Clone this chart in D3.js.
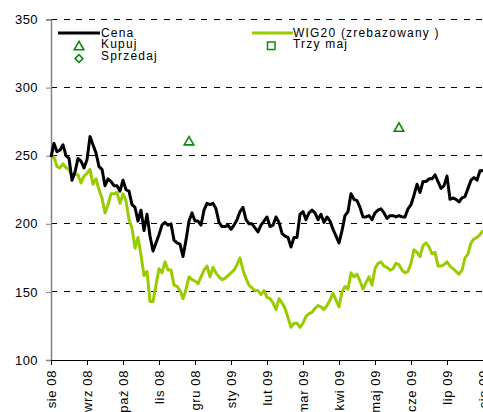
<!DOCTYPE html>
<html><head><meta charset="utf-8">
<script src="https://cdn.jsdelivr.net/npm/d3@7"></script>
<style>
html,body{margin:0;padding:0;background:#fff;}
svg{display:block;font-family:"Liberation Sans",Arial,sans-serif;}
</style></head>
<body>
<script>
const monthLabels = ["sie 08","wrz 08","paź 08","lis 08","gru 08","sty 09","lut 09","mar 09","kwi 09","maj 09","cze 09","lip 09","sie 09"];
const yTicks = [100,150,200,250,300,350];
const cena = [249,259,253,254,258,250,248,232,238,248,246,241,247,264,258,252,242,240,228,233,
231,228,228,224,232,225,224,214,212,202,210,195,207,191,180,186,192,199,201,199,
200,188,186,185,176,188,202,208,202,202,199,210,215,214,215,211,201,198,198,199,
196,199,203,209,212,203,200,200,197,194,199,202,205,198,199,205,201,193,191,190,
183,190,190,207,209,203,208,210,208,203,207,201,205,202,196,191,186,195,206,209,
222,218,217,212,205,205,206,203,208,210,211,208,204,206,206,205,206,205,205,211,
214,221,229,223,231,231,233,233,236,231,226,228,235,218,219,218,216,219,220,226,
232,234,232,239,239];
const wig20 = [249,249,242,241,244,241,240,235,236,236,230,235,237,240,229,233,225,219,208,214,
222,222,223,215,222,217,203,197,182,190,177,162,165,143,143,155,167,164,172,166,
166,155,154,151,145,152,161,159,158,156,161,166,169,161,168,164,161,159,160,162,
164,166,170,175,166,160,155,153,151,151,148,151,146,145,142,137,145,142,138,131,
124,127,127,124,127,132,134,135,138,140,139,137,140,144,149,144,139,150,154,152,
164,161,163,158,152,157,161,155,167,171,172,169,168,166,167,171,170,166,164,165,
171,181,179,176,184,186,183,178,179,169,169,170,172,169,167,165,163,166,175,178,
186,189,190,192,195];
const kupujIdx = [46,116];
const kupujVal = [260,270];
const legendLabels = ["Cena","WIG20 (zrebazowany )","Kupuj","Trzy maj","Sprzedaj"];

const W=483,H=412;
const svg=d3.select("body").append("svg").attr("width",W).attr("height",H);
const x=d3.scaleLinear().domain([0,cena.length-1]).range([51,483]);
const y=d3.scaleLinear().domain([100,350]).range([360,19.5]);
const green="#99cc00", mk="#0a8a0a";

// gridlines
svg.append("g").selectAll("line").data(yTicks.filter(v=>v>100)).join("line")
  .attr("x1",51).attr("x2",W).attr("y1",d=>y(d)).attr("y2",d=>y(d))
  .attr("stroke","#000").attr("stroke-width",1).attr("stroke-dasharray","6,6.5")
  .attr("shape-rendering","crispEdges");

// y axis
const ya=svg.append("g").attr("transform","translate(51,0)")
  .call(d3.axisLeft(y).tickValues(yTicks).tickSize(5).tickPadding(8).tickFormat(d3.format("d")));
ya.select(".domain").attr("stroke","#808080").attr("stroke-width",1.5);
ya.selectAll(".tick line").attr("stroke","#808080");
ya.selectAll("text").attr("font-size","13px").attr("fill","#000").attr("font-family","Liberation Sans, Arial, sans-serif")
  .attr("letter-spacing","0.4px");

// x axis
const xa=svg.append("g").attr("transform","translate(0,360)")
  .call(d3.axisBottom(x).tickValues(d3.range(0,cena.length,12)).tickSize(5)
  .tickFormat((d,i)=>monthLabels[i]));
xa.select(".domain").attr("stroke","#000").attr("stroke-width",1);
xa.selectAll(".tick line").attr("stroke","#000");
xa.selectAll("text").attr("font-size","13px").attr("fill","#000").attr("font-family","Liberation Sans, Arial, sans-serif")
  .attr("letter-spacing","0.6px")
  .attr("transform","rotate(-90)").attr("text-anchor","end").attr("dy","0.35em").attr("x",-10).attr("y",0);

// lines
const line=d3.line().x((d,i)=>x(i)).y(d=>y(d));
svg.append("path").datum(wig20).attr("d",line).attr("fill","none").attr("stroke",green).attr("stroke-width",3).attr("stroke-linejoin","round");
svg.append("path").datum(cena).attr("d",line).attr("fill","none").attr("stroke","#000").attr("stroke-width",3).attr("stroke-linejoin","round");

// markers
const tri=d3.symbol().type(d3.symbolTriangle).size(40);
svg.append("g").selectAll("path").data(kupujIdx).join("path")
  .attr("d",tri()).attr("transform",(d,i)=>`translate(${x(d)},${y(kupujVal[i])})`)
  .attr("fill","none").attr("stroke",mk).attr("stroke-width",1.6);

// legend
const lg=svg.append("g").attr("font-size","12px").attr("letter-spacing","1.2px");
lg.append("line").attr("x1",58).attr("x2",100).attr("y1",33).attr("y2",33).attr("stroke","#000").attr("stroke-width",3);
lg.append("line").attr("x1",252).attr("x2",293).attr("y1",33).attr("y2",33).attr("stroke",green).attr("stroke-width",3);
lg.append("path").attr("d",tri()).attr("transform","translate(79,47)").attr("fill","none").attr("stroke",mk).attr("stroke-width",1.6);
lg.append("path").attr("d",d3.symbol().type(d3.symbolSquare).size(30)()).attr("transform","translate(79,58.5) rotate(45)").attr("fill","none").attr("stroke",mk).attr("stroke-width",1.6);
lg.append("rect").attr("x",267.5).attr("y",42).attr("width",7.5).attr("height",7.5).attr("fill","none").attr("stroke",mk).attr("stroke-width",1.5);
const lpos=[[101,36.5],[293,36.5],[101,48],[293,48],[101,59.5]];
lg.selectAll("text").data(legendLabels).join("text")
  .attr("x",(d,i)=>lpos[i][0]).attr("y",(d,i)=>lpos[i][1]).text(d=>d).attr("fill","#000");
</script>
</body></html>
